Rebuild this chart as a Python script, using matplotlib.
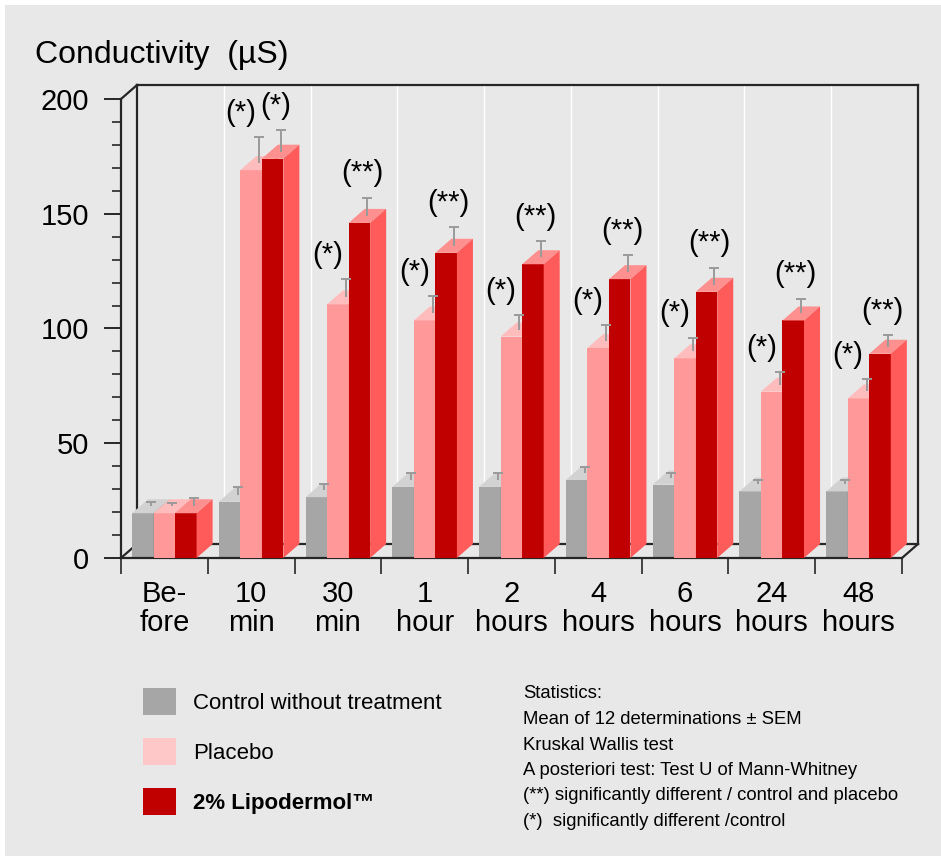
import numpy as np
import matplotlib
matplotlib.use('Agg')
import matplotlib.pyplot as plt
from matplotlib.patches import Polygon, Patch, Rectangle
from matplotlib import font_manager

plt.rcParams['font.family'] = ['Liberation Sans', 'DejaVu Sans']

## DATA
categories = ['Be-\nfore', '10\nmin', '30\nmin', '1\nhour', '2\nhours',
              '4\nhours', '6\nhours', '24\nhours', '48\nhours']
series_names = ['Control without treatment', 'Placebo', '2% Lipodermol™']

control = [19.5, 24.5, 26.5, 31, 31, 34, 32, 29, 29]
placebo = [19.5, 169, 110.5, 103.5, 96.5, 91.5, 87, 72.5, 69.5]
lipodermol = [19.5, 174, 146, 133, 128, 121.5, 116, 103.5, 89]

control_err = [2, 3.5, 2.7, 3, 3, 2.7, 2, 2, 2]
placebo_err = [1.5, 11.5, 8, 7.5, 6.5, 7, 6, 5.5, 5.5]
lipodermol_err = [3.5, 9.5, 8, 8, 7, 7.5, 7.5, 6.5, 5]

placebo_sig = ['', '(*)', '(*)', '(*)', '(*)', '(*)', '(*)', '(*)', '(*)']
lipodermol_sig = ['', '(*)', '(**)', '(**)', '(**)', '(**)', '(**)', '(**)', '(**)']

stats_lines = ['Statistics:',
               'Mean of 12 determinations ± SEM',
               'Kruskal Wallis test',
               'A posteriori test: Test U of Mann-Whitney',
               '(**) significantly different / control and placebo',
               '(*)  significantly different /control']

## STYLE
front_colors = ['#a6a6a6', '#ff9999', '#c00000']
top_colors = ['#d2d2d2', '#ffbcbc', '#ff9090']
side_colors = ['#8c8c8c', '#ff7777', '#ff5b5b']
legend_colors = ['#a6a6a6', '#ffc8c8', '#c00000']
bg = '#e8e8e8'
line_c = '#262626'

W = 0.248      # bar width (category units)
OFF = 0.127    # gap before first bar
DX = 0.1846    # depth offset x
DY = 6.1       # depth offset y (value units)

fig = plt.figure(figsize=(9.41, 8.61), dpi=100, facecolor='white')
fig.patches.append(Rectangle((5 / 941, 5 / 861), 936 / 941, 851 / 861,
                             transform=fig.transFigure, facecolor=bg,
                             edgecolor='none', zorder=-10))

ax = fig.add_axes([121 / 941, (861 - 558) / 861, 797 / 941, 473 / 861])
ax.patch.set_visible(False)
n = len(categories)
ax.set_xlim(0, n + DX)
ax.set_ylim(0, 200 + DY)

# axes frame (front)
for s in ['top', 'right']:
    ax.spines[s].set_visible(False)
ax.spines['left'].set_bounds(0, 200)
ax.spines['bottom'].set_bounds(0, n)
for s in ['left', 'bottom']:
    ax.spines[s].set_color(line_c)
    ax.spines[s].set_linewidth(1.6)

ax.set_yticks(range(0, 201, 50))
ax.set_yticks(range(0, 201, 10), minor=True)
ax.tick_params(axis='y', which='major', length=12, width=1.4, pad=11,
               labelsize=21, color=line_c)
ax.tick_params(axis='y', which='minor', length=6.5, width=1.2, color=line_c)

ax.set_xticks(range(n + 1))
ax.set_xticklabels([''] * (n + 1))
ax.set_xticks(np.arange(n) + 0.5, minor=True)
ax.set_xticklabels(categories, minor=True, fontsize=21, linespacing=1.05)
ax.tick_params(axis='x', which='major', length=11.5, width=1.2, color=line_c)
ax.tick_params(axis='x', which='minor', length=0, pad=16)

# back wall, side wall and floor
kw = dict(color=line_c, lw=1.6, clip_on=False, zorder=1)
ax.plot([0, DX], [200, 200 + DY], **kw)
ax.plot([0, DX], [0, DY], **kw)
ax.plot([DX, DX], [DY, 200 + DY], **kw)
ax.plot([DX, n + DX], [200 + DY, 200 + DY], **kw)
ax.plot([n + DX, n + DX], [DY, 200 + DY], **kw)
ax.plot([DX, n + DX], [DY, DY], **kw)
ax.plot([n, n + DX], [0, DY], **kw)
for k in range(1, n):
    ax.plot([k + DX, k + DX], [DY, 200 + DY], color='white', lw=1, zorder=0.5)

# 3D bars
series = [control, placebo, lipodermol]
errors = [control_err, placebo_err, lipodermol_err]
for j, (vals, errs) in enumerate(zip(series, errors)):
    x = np.arange(n) + OFF + j * W
    bars = ax.bar(x, vals, width=W, align='edge', color=front_colors[j],
                  linewidth=0, zorder=2 + j)
    for b in bars:
        x0, h = b.get_x(), b.get_height()
        ax.add_patch(Polygon([(x0, h), (x0 + W, h), (x0 + W + DX, h + DY),
                              (x0 + DX, h + DY)], closed=True,
                             facecolor=top_colors[j], edgecolor='none', zorder=2 + j))
        ax.add_patch(Polygon([(x0 + W, 0), (x0 + W + DX, DY), (x0 + W + DX, h + DY),
                              (x0 + W, h)], closed=True,
                             facecolor=side_colors[j], edgecolor='none', zorder=2 + j))
    eb = ax.errorbar(x + W / 2 + DX / 2, np.array(vals) + DY / 2,
                     yerr=[np.zeros(n), errs], fmt='none', ecolor='#9a9a9a',
                     elinewidth=1.4, capsize=3.6, capthick=1.4, zorder=6)
    eb[1][0].set_visible(False)

# significance marks
for k in range(n):
    if placebo_sig[k]:
        y = placebo[k] + DY / 2 + placebo_err[k] + 10.5
        ax.text(k + OFF + 1.5 * W - 0.12, y, placebo_sig[k], ha='center',
                va='center', fontsize=21, zorder=7)
    if lipodermol_sig[k]:
        y = lipodermol[k] + DY / 2 + lipodermol_err[k] + 10.5
        ax.text(k + OFF + 2.5 * W + 0.03, y, lipodermol_sig[k], ha='center',
                va='center', fontsize=21, zorder=7)

# title
fig.text(35 / 941, 1 - 63 / 861, 'Conductivity  (µS)', fontsize=23, va='baseline')

# legend
handles = [Patch(facecolor=c, edgecolor='none') for c in legend_colors]
leg = fig.legend(handles, series_names, loc='upper left',
                 bbox_to_anchor=(143 / 941, 1 - 688 / 861), frameon=False,
                 fontsize=16, handlelength=1.49, handleheight=1.49,
                 handletextpad=0.77, labelspacing=1.04, borderpad=0,
                 borderaxespad=0)
leg.get_texts()[2].set_fontweight('bold')

# statistics note
names = {f.name for f in font_manager.fontManager.ttflist}
if 'Liberation Sans Narrow' in names:
    st_family, st_size = ['Liberation Sans Narrow', 'DejaVu Sans'], 14
else:
    st_family, st_size = ['Liberation Sans', 'DejaVu Sans'], 13.3
for i, line in enumerate(stats_lines):
    fig.text(523 / 941, 1 - (694 + 25.5 * i) / 861, line, fontsize=st_size,
             family=st_family, va='center')

fig.savefig('out.png', dpi=100, facecolor=fig.get_facecolor())
